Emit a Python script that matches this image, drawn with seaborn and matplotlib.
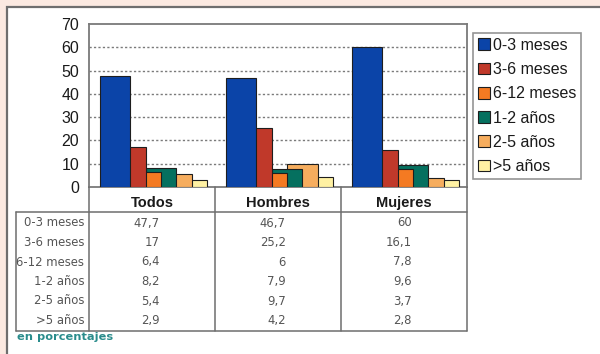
import matplotlib
matplotlib.use("Agg")
import matplotlib.pyplot as plt
import matplotlib.transforms as mtransforms
from matplotlib.patches import Rectangle, Patch
from matplotlib.lines import Line2D
import seaborn as sns
import pandas as pd

# Data (percentages)
groups = ["Todos", "Hombres", "Mujeres"]
durations = ["0-3 meses", "3-6 meses", "6-12 meses", "1-2 años", "2-5 años", ">5 años"]
todos = [47.7, 17, 6.4, 8.2, 5.4, 2.9]
hombres = [46.7, 25.2, 6, 7.9, 9.7, 4.2]
mujeres = [60, 16.1, 7.8, 9.6, 3.7, 2.8]
value_labels = {
    "Todos": ["47,7", "17", "6,4", "8,2", "5,4", "2,9"],
    "Hombres": ["46,7", "25,2", "6", "7,9", "9,7", "4,2"],
    "Mujeres": ["60", "16,1", "7,8", "9,6", "3,7", "2,8"],
}
colors = ["#0B44A8", "#C0392A", "#F47A22", "#05705F", "#F6AD5E", "#FFF1A3"]

rows = []
for g, vals in zip(groups, [todos, hombres, mujeres]):
    for d, v in zip(durations, vals):
        rows.append({"grupo": g, "duracion": d, "valor": v})
df = pd.DataFrame(rows)

sns.set_style("white")
plt.rcParams["font.family"] = ["Liberation Sans", "DejaVu Sans"]

W, H = 600, 354
fig = plt.figure(figsize=(6.0, 3.54), dpi=100)
fig.patch.set_facecolor("#FBE9E1")


def fx(px):
    return px / W


def fy(py):
    return 1 - py / H


# white panel with grey border
fig.patches.append(Rectangle((fx(7), fy(360)), fx(600), fy(7) - fy(360),
                             transform=fig.transFigure, facecolor="white",
                             edgecolor="#6E6E6E", linewidth=1.6, zorder=-5))

ax = fig.add_axes([fx(89), fy(187), fx(467) - fx(89), fy(24) - fy(187)])
ax.set_facecolor("white")

n = len(durations)
group_w = 0.73
sns.barplot(data=df, x="grupo", y="valor", hue="duracion", order=groups,
            hue_order=durations, palette=colors, width=group_w, gap=0,
            dodge=True, legend=False, ax=ax, edgecolor="#1E1E1E",
            linewidth=0.8, saturation=1)

# each series spans two slots, earlier series drawn in front
slot = group_w / n
for k, cont in enumerate(ax.containers):
    for p in cont.patches:
        p.set_x(p.get_x() - slot / 2 + 0.01)
        p.set_width(2 * slot)
        p.set_zorder(3 + (n - k) * 0.1)

ax.set_xlim(-0.5, 2.5)
ax.set_ylim(0, 70)
ax.set_yticks(range(0, 71, 10))
ax.set_xticks([])
ax.set_xlabel("")
ax.set_ylabel("")
ax.tick_params(axis="y", length=0, pad=7, labelsize=11.5, labelcolor="#1A1A1A")
for y in range(10, 70, 10):
    ax.axhline(y, color="#7A7A7A", lw=1.0, ls=(0, (1.6, 1.6)), zorder=1)
for s in ax.spines.values():
    s.set_color("#7A7A7A")
    s.set_linewidth(1.3)

# legend
handles = [Patch(facecolor=c, edgecolor="#1E1E1E", linewidth=0.8) for c in colors]
leg = ax.legend(handles, durations, loc="upper left",
                bbox_to_anchor=(fx(473), fy(33)), bbox_transform=fig.transFigure,
                fontsize=11.5, frameon=True, fancybox=False, borderpad=0.3,
                labelspacing=0.58, handlelength=0.75, handleheight=0.75,
                handletextpad=0.2, borderaxespad=0)
leg.get_frame().set_edgecolor("#7A7A7A")
leg.get_frame().set_linewidth(1.2)
for t in leg.get_texts():
    t.set_color("#1A1A1A")

# data table under the chart
blend = mtransforms.blended_transform_factory(ax.transData, fig.transFigure)
line_kw = dict(color="#6E6E6E", lw=1.1)
for xb in [-0.5, 0.5, 1.5, 2.5]:
    fig.add_artist(Line2D([xb, xb], [fy(187), fy(331)], transform=blend, **line_kw))
fig.add_artist(Line2D([fx(16), fx(16)], [fy(212), fy(331)], transform=fig.transFigure, **line_kw))
for yy in [212, 331]:
    fig.add_artist(Line2D([fx(16), fx(467)], [fy(yy), fy(yy)], transform=fig.transFigure, **line_kw))

for i, g in enumerate(groups):
    fig.text(i, fy(203), g, transform=blend, ha="center", va="center",
             fontsize=10.5, fontweight="bold", color="#1A1A1A")

row_y = [223, 242.5, 262, 281.5, 301, 320.5]
tab_font = dict(family="DejaVu Sans", fontsize=8.4, color="#555555")
for d, ry in zip(durations, row_y):
    fig.text(fx(84), fy(ry), d, ha="right", va="center", **tab_font)
for i, g in enumerate(groups):
    for lbl, ry in zip(value_labels[g], row_y):
        fig.text(i + 0.06, fy(ry), lbl, transform=blend, ha="right",
                 va="center", **tab_font)

fig.text(fx(17), fy(337), "en porcentajes", ha="left", va="center",
         family="DejaVu Sans", fontsize=8.2, fontweight="bold", color="#2A8C8C")

fig.savefig("out.png", dpi=100, facecolor=fig.get_facecolor())
